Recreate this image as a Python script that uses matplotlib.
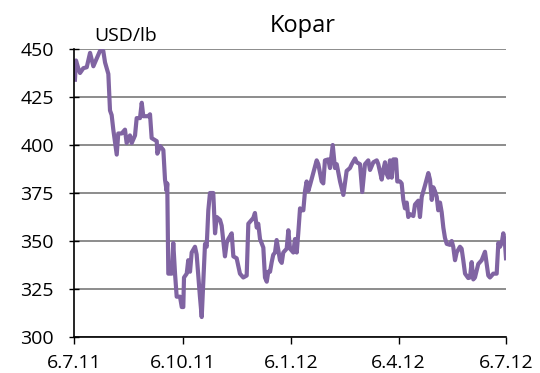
import matplotlib
matplotlib.use("Agg")
import matplotlib.pyplot as plt
import pandas as pd

# copper price, days counted from 6 July 2011
days = [0.8, 1.7, 3.6, 5.1, 7.9, 10.8, 13.6, 16.4, 19.2, 22.0, 24.8, 26.3, 29.1,
        30.5, 31.9, 33.3, 36.2, 37.5, 40.4, 43.2, 44.6, 47.4, 48.9, 51.7, 53.1,
        55.9, 57.4, 58.7, 62.9, 64.4, 65.8, 70.1, 70.6, 72.9, 75.7, 77.1, 78.5,
        79.0, 79.9, 82.8, 84.1, 85.6, 87.0, 89.8, 91.3, 92.6, 93.2, 95.5, 96.8,
        98.3, 99.7, 102.5, 103.9, 106.7, 108.2, 109.5, 111.0, 112.4, 113.8, 115.2,
        118.0, 119.5, 120.9, 123.7, 125.1, 127.9, 129.4, 130.7, 133.6, 135.0,
        137.8, 140.6, 143.4, 146.3, 147.7, 150.5, 151.9, 153.3, 154.8, 156.1,
        157.6, 160.4, 161.8, 163.3, 164.6, 166.1, 167.5, 168.8, 170.3, 171.7,
        174.5, 176.0, 177.3, 180.2, 181.6, 183.0, 185.8, 187.2, 188.7, 190.0,
        191.5, 192.9, 194.3, 195.7, 197.1, 198.5, 199.9, 202.7, 205.6, 207.0,
        209.8, 211.2, 212.6, 215.4, 216.9, 219.2, 221.1, 222.6, 225.4, 228.2,
        231.0, 233.8, 235.3, 238.1, 239.5, 242.3, 244.2, 246.5, 249.3, 250.8,
        253.6, 256.5, 257.8, 260.7, 262.0, 263.5, 264.9, 266.3, 267.7, 269.2,
        270.5, 272.8, 273.9, 276.2, 277.6, 279.0, 280.4, 281.9, 283.2, 284.7,
        287.5, 288.9, 291.7, 293.1, 294.6, 297.4, 300.2, 301.6, 303.1, 304.4,
        305.8, 307.3, 308.6, 310.1, 311.5, 312.9, 314.3, 315.8, 318.5, 320.0,
        321.3, 322.8, 324.2, 327.0, 328.4, 329.8, 331.3, 334.0, 335.5, 336.9,
        338.3, 339.7, 342.5, 345.4, 348.2, 349.6, 351.0, 352.4, 353.9, 355.2,
        358.1, 359.5, 360.9, 362.4, 363.7, 365.1, 366.0]
price = [434, 444, 440, 437.5, 440, 440.5, 448, 441, 445, 449, 449, 443, 437,
         418, 415.6, 408, 395, 406, 406, 408, 401, 405, 401, 405, 414,
         414, 422, 415, 415, 416, 403.6, 402, 395.5, 399.5, 397.4, 382, 376,
         380, 333, 333, 349, 333, 321, 321, 315.6, 315.6, 331, 333, 340,
         334, 344, 347, 343, 321, 310.4, 328, 348.5, 347, 366, 375,
         375, 354, 362.5, 361, 358, 342, 349, 351, 354, 342,
         341, 333, 331, 332, 359, 361, 362, 364.6, 357, 359,
         351, 346.6, 331, 328.8, 334, 334, 339, 342.8, 344, 350.5,
         340, 338.6, 344, 346, 355.6, 346, 344, 351, 344, 354,
         367, 366, 366, 376, 381, 376, 379, 385.4, 392, 390,
         381, 380, 392, 392.5, 388, 400, 388, 390, 381, 374,
         386.5, 388, 390, 393, 391, 390, 375.5, 390, 392, 387,
         391, 392, 390, 382, 387, 391, 385, 383, 392, 383,
         392.5, 392.5, 381, 381, 380, 371.4, 367, 370, 362.5, 364,
         363, 369, 371, 362.5, 373, 379, 385.4, 382, 371.4, 378,
         376, 373, 366, 370, 365, 357, 351.6, 348.5, 348, 350,
         347, 340, 344, 347, 346, 340, 333, 330.7, 331, 339,
         330, 331, 338, 340, 344.4, 338, 332, 331, 332, 333,
         333, 349, 347, 349, 354, 349, 341]

start = pd.Timestamp("2011-07-06")
tick_dates = ["2011-07-06", "2011-10-06", "2012-01-06", "2012-04-06", "2012-07-06"]
tick_labels = ["6.7.11", "6.10.11", "6.1.12", "6.4.12", "6.7.12"]
tick_pos = [(pd.Timestamp(d) - start).days for d in tick_dates]

plt.rcParams["font.family"] = ["Open Sans", "DejaVu Sans"]

fig = plt.figure(figsize=(5.4, 3.73), dpi=100)
ax = fig.add_axes([74 / 540, 1 - 337 / 373, 432 / 540, 288 / 373])

ax.plot(days, price, color="#8064A2", linewidth=3.0, solid_joinstyle="round")

ax.set_xlim(tick_pos[0], tick_pos[-1])
ax.set_ylim(300, 450)
ax.set_yticks(range(300, 451, 25))
ax.set_xticks(tick_pos)
ax.set_xticklabels(tick_labels)
ax.tick_params(axis="both", labelsize=14, color="black")
ax.tick_params(axis="y", direction="inout", length=7, width=1, pad=11)
ax.tick_params(axis="x", direction="out", length=5, width=1, pad=7)

ax.yaxis.grid(True, color="#8c8c8c", linewidth=1.4)
ax.set_axisbelow(True)
for side in ("top", "right"):
    ax.spines[side].set_visible(False)
for side in ("left", "bottom"):
    ax.spines[side].set_linewidth(1.2)

fig.text(303 / 540, 1 - 26 / 373, "Kopar", fontsize=17, ha="center", va="center")
fig.text(94 / 540, 1 - 36 / 373, "USD/lb", fontsize=14, ha="left", va="center")

fig.savefig("out.png", dpi=100)
